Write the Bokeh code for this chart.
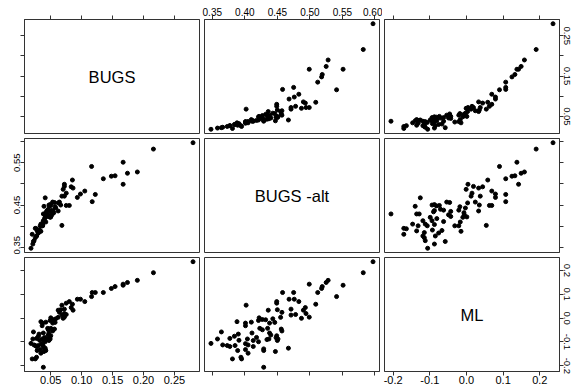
from bokeh.plotting import figure
from bokeh.layouts import gridplot
from bokeh.models import Range1d, LinearAxis, FixedTicker, PrintfTickFormatter, AllLabels
from bokeh.core.properties import value
from bokeh.embed import file_html
from bokeh.resources import INLINE

# ---- data ----
bugs_alt = [0.597, 0.582, 0.528, 0.525, 0.519, 0.518, 0.499, 0.551, 0.512, 0.458,
            0.475, 0.541, 0.468, 0.476, 0.483, 0.449, 0.449, 0.402, 0.509, 0.493,
            0.490, 0.471, 0.436, 0.450, 0.457, 0.471, 0.478, 0.494, 0.487, 0.499,
            0.422, 0.427, 0.432, 0.421, 0.443, 0.455, 0.438, 0.446, 0.388, 0.401,
            0.410, 0.401, 0.423, 0.427, 0.435, 0.456, 0.457, 0.364, 0.390, 0.384,
            0.411, 0.418, 0.438, 0.440, 0.449, 0.448, 0.437, 0.358, 0.377, 0.391,
            0.404, 0.413, 0.421, 0.434, 0.450, 0.451, 0.348, 0.366, 0.373, 0.377,
            0.385, 0.401, 0.405, 0.413, 0.429, 0.429, 0.447, 0.467, 0.389, 0.401,
            0.405, 0.381, 0.394, 0.395, 0.429]
ml = [0.236, 0.190, 0.158, 0.149, 0.132, 0.124, 0.142, 0.1375, 0.107, 0.107,
      0.107, 0.090, 0.079, 0.079, 0.069, 0.069, 0.0625, 0.054, 0.058, 0.044,
      0.033, 0.0375, 0.033, 0.035, 0.024, 0.0125, 0.015, 0.019, -0.001, 0.004,
      0.001, -0.006, -0.007, -0.010, -0.003, 0.003, -0.021, -0.018, -0.015, -0.021,
      -0.017, -0.032, -0.043, -0.049, -0.043, -0.046, -0.054, -0.058, -0.067, -0.076,
      -0.0625, -0.081, -0.0625, -0.071, -0.074, -0.082, -0.0875, -0.0875, -0.085, -0.093,
      -0.0875, -0.094, -0.099, -0.090, -0.094, -0.0875, -0.106, -0.1125, -0.115, -0.119,
      -0.115, -0.107, -0.1125, -0.119, -0.129, -0.136, -0.140, -0.126, -0.136, -0.132,
      -0.147, -0.171, -0.164, -0.171, -0.206]
bugs = [0.280, 0.216, 0.190, 0.174, 0.154, 0.148, 0.167, 0.167, 0.135, 0.117,
        0.122, 0.116, 0.093, 0.098, 0.105, 0.080, 0.075, 0.068, 0.085, 0.083,
        0.086, 0.072, 0.062, 0.066, 0.064, 0.068, 0.075, 0.072, 0.070, 0.072,
        0.050, 0.052, 0.055, 0.049, 0.058, 0.062, 0.053, 0.057, 0.034, 0.037,
        0.042, 0.036, 0.045, 0.046, 0.050, 0.056, 0.053, 0.022, 0.031, 0.030,
        0.038, 0.040, 0.047, 0.046, 0.050, 0.048, 0.044, 0.021, 0.027, 0.032,
        0.036, 0.039, 0.041, 0.043, 0.047, 0.049, 0.018, 0.023, 0.025, 0.027,
        0.030, 0.035, 0.037, 0.038, 0.040, 0.042, 0.039, 0.041, 0.028, 0.033,
        0.034, 0.020, 0.027, 0.025, 0.038]

var_names = ["BUGS", "BUGS -alt", "ML"]
bugs_ticks = [0.05, 0.10, 0.15, 0.20, 0.25]
alt_ticks = [0.35, 0.40, 0.45, 0.50, 0.55, 0.60]
ml_ticks = [-0.2, -0.1, 0.0, 0.1, 0.2]

variables = [bugs, bugs_alt, ml]
ticks = [bugs_ticks, alt_ticks, ml_ticks]
formats = ["%.2f", "%.2f", "%.1f"]

BOX = "#333333"
FONT = "Liberation Sans"
FW, FH = 175, 114
col_borders = [(24, 3), (2, 3), (2, 13)]      # (left, right)
row_borders = [(19, 2), (3, 2), (3, 16)]      # (top, bottom)


def padded(v):
    lo, hi = min(v), max(v)
    d = (hi - lo) * 0.04
    return lo - d, hi + d


def add_axis(p, place, tks, fmt, show, size="10px", skip=()):
    ax = LinearAxis(ticker=FixedTicker(ticks=tks, minor_ticks=[]),
                    formatter=PrintfTickFormatter(format=fmt))
    ax.axis_line_color = BOX
    ax.major_tick_line_color = BOX
    ax.major_tick_out = 4
    ax.major_tick_in = 0
    ax.minor_tick_out = 0
    ax.minor_tick_in = 0
    ax.major_label_standoff = 0
    ax.major_label_policy = AllLabels()
    if show:
        ax.major_label_text_font = FONT
        ax.major_label_text_font_size = size
        ax.major_label_text_color = "black"
        if place in ("left", "right"):
            ax.major_label_orientation = "vertical"
        if skip:
            ax.major_label_overrides = {t: "" for t in skip}
    else:
        ax.major_label_text_font_size = "0px"
        ax.major_label_text_color = None
    p.add_layout(ax, place)


rows = []
for i in range(3):
    row = []
    for j in range(3):
        xr = Range1d(*padded(variables[j]))
        yr = Range1d(*padded(variables[i]))
        p = figure(frame_width=FW, frame_height=FH, x_range=xr, y_range=yr,
                   x_axis_location=None, y_axis_location=None,
                   toolbar_location=None, output_backend="svg",
                   min_border_left=col_borders[j][0], min_border_right=col_borders[j][1],
                   min_border_top=row_borders[i][0], min_border_bottom=row_borders[i][1])
        p.xgrid.grid_line_color = None
        p.ygrid.grid_line_color = None
        p.outline_line_color = BOX
        p.outline_line_width = 1
        p.background_fill_color = "white"
        p.border_fill_color = "white"
        if i == j:
            cx = sum(padded(variables[j])) / 2
            cy = sum(padded(variables[i])) / 2
            p.text(x=[cx], y=[cy], text=[var_names[i]], text_align="center",
                   text_baseline="middle", text_font=value(FONT),
                   text_font_size="16.5px", text_color="black")
        else:
            p.scatter(x=variables[j], y=variables[i], size=4,
                      fill_color="black", line_color="black")
        # x axes
        if i == 0:
            add_axis(p, "above", ticks[j], formats[j], show=(j == 1), size="10px")
        if i == 2:
            add_axis(p, "below", ticks[j], formats[j], show=(j != 1), size="11px")
        # y axes
        if j == 0:
            skip = [0.40, 0.50, 0.60] if i == 1 else ()
            add_axis(p, "left", ticks[i], formats[i], show=(i == 1), size="9.5px",
                     skip=[t for t in ticks[i] if t in skip])
        if j == 2:
            skip = [0.10, 0.20] if i == 0 else ()
            add_axis(p, "right", ticks[i], formats[i], show=(i != 1), size="9.5px",
                     skip=[t for t in ticks[i] if t in skip])
        row.append(p)
    rows.append(row)

grid = gridplot(rows, toolbar_location=None)
open("out.html", "w").write(file_html(grid, INLINE))
